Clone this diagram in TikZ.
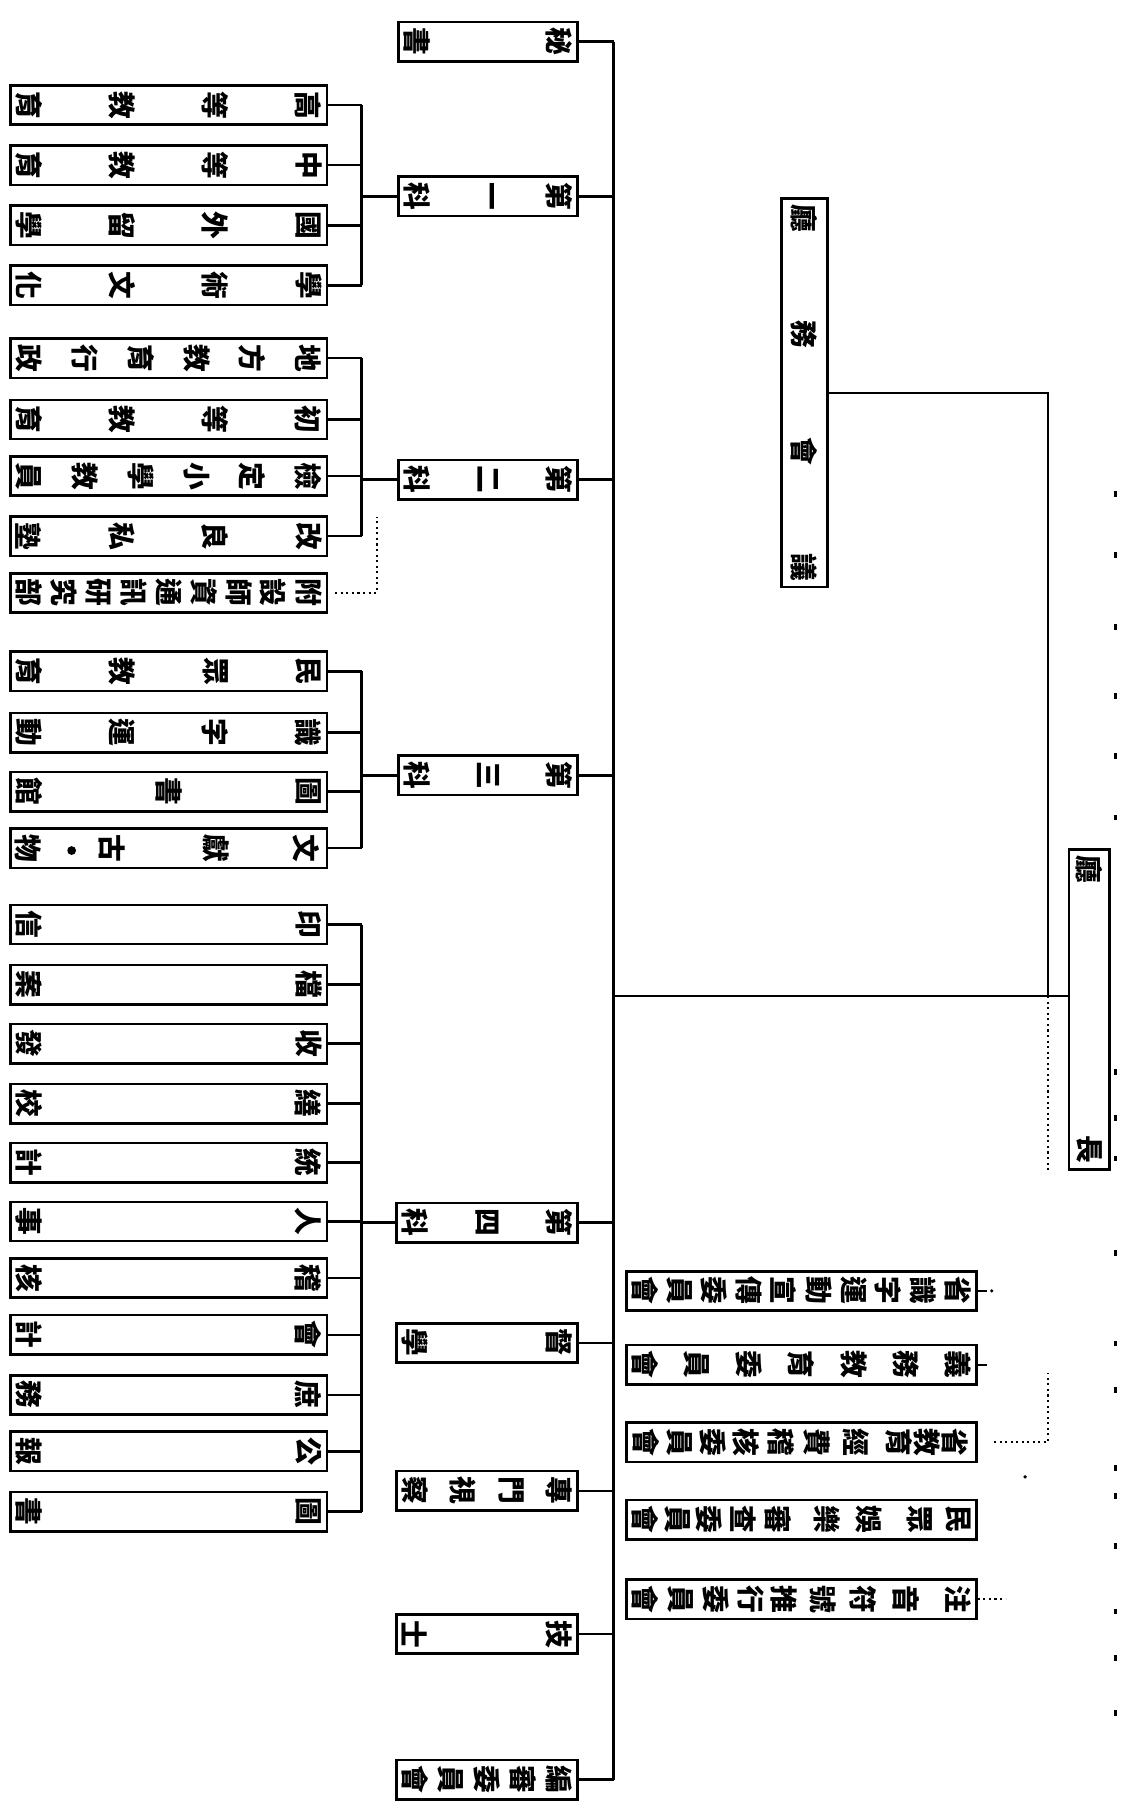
\documentclass[tikz,border=0pt]{standalone}
\usepackage{fontspec}
\newfontfamily\cjk{Noto Sans CJK TC}
\newcommand{\mkbox}[6]{%
  \node[bx, minimum width={#3-#2}] (#1) at ({(#2+#3)/2},#4) {};
  \foreach \chr [count=\ii] in {#6} {%
    \node[ch] at ({#3-16-(\ii-1)*(#3-#2-32)/(#5-1)},#4) {\chr};
  }%
}
\newcommand{\mkboxat}[5]{%
  \node[bx, minimum width={#3-#2}] (#1) at ({(#2+#3)/2},#4) {};
  \foreach \xx/\chr in {#5} {\node[ch] at (\xx,#4) {\chr};}%
}
\newcommand{\mkvbox}[7]{%
  \node[bx, minimum width={#3-#2}, minimum height={#5-#4}] (#1) at ({(#2+#3)/2},{(#4+#5)/2}) {};
  \foreach \chr [count=\ii] in {#7} {%
    \node[ch] at ({(#2+#3)/2},{#4+17+(\ii-1)*(#5-#4-34)/(#6-1)}) {\chr};
  }%
}
\begin{document}
\begin{tikzpicture}[x=1pt,y=-1pt,
  bx/.style={draw, line width=2.3pt, rectangle, inner sep=0pt, minimum height=34pt},
  ch/.style={font=\cjk\bfseries\fontsize{24}{24}\selectfont, rotate=-90, inner sep=0pt},
  ln/.style={line width=2.1pt},
  trk/.style={line width=2.7pt},
  dl/.style={line width=1.6pt, dash pattern=on 1.8pt off 3pt},
  thin/.style={line width=1.5pt}]
\fill[white] (0,0) rectangle (970,1568);
\useasboundingbox (0,0) rectangle (970,1568);
\coordinate (tr) at (531,0);
\coordinate (br) at (313,0);
\coordinate (jx) at (907,0);
\coordinate (dx) at (326,0);
\coordinate (hy) at (0,862);
\coordinate (dtop) at (326,447);
\coordinate (d3) at (907,1188);
% middle column
\mkbox{m0}{345}{500}{36}{2}{秘,書}
\mkbox{m1}{345}{500}{170}{3}{第,一,科}
\mkbox{m2}{345}{500}{415}{3}{第,二,科}
\mkbox{m3}{345}{500}{671}{3}{第,三,科}
\mkbox{m4}{343}{500}{1058}{3}{第,四,科}
\mkbox{m5}{343}{500}{1162}{2}{督,學}
\mkbox{m6}{343}{500}{1290}{4}{專,門,視,察}
\mkbox{m7}{343}{500}{1414}{2}{技,士}
\mkbox{m8}{343}{500}{1540}{5}{編,審,委,員,會}
\draw[trk] (m0.east -| tr) -- (m8.east -| tr);
\foreach \k in {0,...,8} \draw[ln] (m\k.east) -- (m\k.east -| tr);
% group 1
\mkbox{a1}{9}{283}{91}{4}{高,等,教,育}
\mkbox{a2}{9}{283}{143}{4}{中,等,教,育}
\mkbox{a3}{9}{283}{195}{4}{國,外,留,學}
\mkbox{a4}{9}{283}{247}{4}{學,術,文,化}
\foreach \k in {1,...,4} \draw[ln] (a\k.east) -- (a\k.east -| br);
\draw[ln] (a1.east -| br) -- (a4.east -| br);
\draw[ln] (m1.west -| br) -- (m1.west);
% group 2
\mkbox{b1}{9}{283}{310}{6}{地,方,教,育,行,政}
\mkbox{b2}{9}{283}{363}{4}{初,等,教,育}
\mkbox{b3}{9}{283}{412}{6}{檢,定,小,學,教,員}
\mkbox{b4}{9}{283}{464}{4}{改,良,私,塾}
\mkbox{b5}{9}{283}{513}{9}{附,設,師,資,通,訊,研,究,部}
\foreach \k in {1,...,4} \draw[ln] (b\k.east) -- (b\k.east -| br);
\draw[ln] (b1.east -| br) -- (b4.east -| br);
\draw[ln] (m2.west -| br) -- (m2.west);
\draw[dl] ([xshift=6pt]b5.east) -- (b5.east -| dx) -- (dtop);
% group 3
\mkbox{t1}{9}{283}{581}{4}{民,眾,教,育}
\mkbox{t2}{9}{283}{634}{4}{識,字,運,動}
\mkbox{t3}{9}{283}{685}{3}{圖,書,館}
\mkboxat{t4}{9}{283}{734}{265/文,187/獻,97/古,24/物}
\fill (62,736) circle (3.8);
\foreach \k in {1,...,4} \draw[ln] (t\k.east) -- (t\k.east -| br);
\draw[ln] (t1.east -| br) -- (t4.east -| br);
\draw[ln] (m3.west -| br) -- (m3.west);
% group 4
\foreach \k/\y/\p/\q in {1/800/印/信, 2/852/檔/案, 3/903/收/發, 4/955/繕/校, 5/1006/統/計, 6/1057/人/事, 7/1106/稽/核, 8/1155/會/計, 9/1207/庶/務, 10/1256/公/報, 11/1308/圖/書} {
  \mkbox{f\k}{9}{283}{\y}{2}{\p,\q}
  \draw[ln] (f\k.east) -- (f\k.east -| br);
}
\draw[ln] (f1.east -| br) -- (f11.east -| br);
\draw[ln] (m4.west -| br) -- (m4.west);
% committees
\mkbox{k1}{542}{845}{1117}{10}{省,識,字,運,動,宣,傳,委,員,會}
\mkbox{k2}{542}{845}{1181}{7}{義,務,教,育,委,員,會}
\mkboxat{k3}{542}{845}{1248}{826/省,802/教,778/育,741/經,707/費,676/稽,646/核,617/委,588/員,559/會}
\mkboxat{k4}{542}{845}{1315}{829/民,796/眾,752/娛,716/樂,673/審,643/查,614/委,586/員,558/會}
\mkboxat{k5}{542}{845}{1384}{829/注,784/音,747/符,712/號,678/推,650/行,620/委,589/員,558/會}
\draw[thin] (k1.east) -- ++(8,0);
\fill ([xshift=12pt]k1.east) circle (1.5);
\draw[thin] (k2.east) -- ++(8,0);
\draw[dl] ([xshift=14pt]k3.east) -- (k3.east -| jx) -- (d3);
\draw[dl] (k5.east) -- ++(24,0);
% head and meeting
\mkvbox{hd}{925}{960}{735}{1012}{2}{廳,長}
\mkvbox{mt}{676}{716}{172}{508}{4}{廳,務,會,議}
\draw[ln] (hd.west |- hy) -- (tr |- hy);
\draw[ln] (mt.east) -- (mt.east -| jx) -- (jx |- hy);
\draw[dl] (jx |- hy) -- (jx |- hd.south);
% stray marks
\fill (887,1278) circle (1.6);
\foreach \y in {425,478,540,600,652,705,925,965,1000,1082,1160,1200,1268,1292,1335,1392,1432,1480}
  \fill (964,\y) rectangle ++(2.5,5);
\end{tikzpicture}
\end{document}
